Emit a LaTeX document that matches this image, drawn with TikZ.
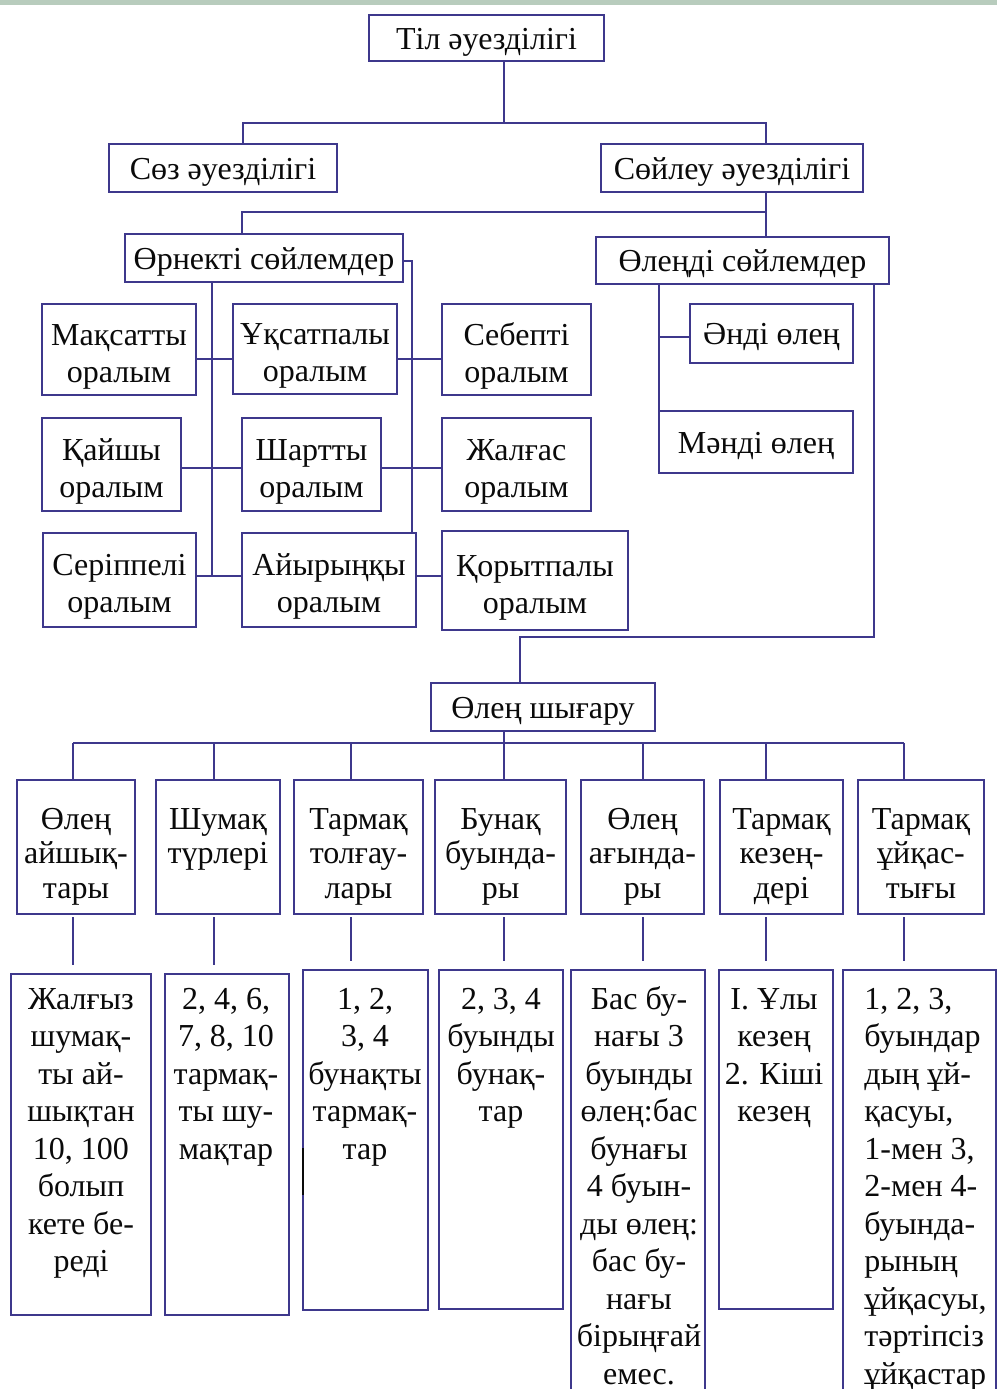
\documentclass[tikz,border=0pt]{standalone}
\usepackage{fontspec}
\setmainfont{Liberation Serif}
\definecolor{lineblue}{RGB}{62,56,140}
\definecolor{bandgreen}{RGB}{184,204,189}
\definecolor{inkblack}{RGB}{10,10,10}
\begin{document}
\begin{tikzpicture}[x=0.5pt,y=-0.5pt,
  box/.style={draw=lineblue, line width=1pt, inner sep=0pt, outer sep=0pt,
    align=center, text=inkblack, font=\fontsize{16}{18.5}\selectfont},
  frame/.style args={#1/#2/#3/#4}{minimum width={(#3-#1)*0.5pt},
    minimum height={(#4-#2)*0.5pt}, at={({(#1+#3)/2},{(#2+#4)/2})}},
  oneline/.style={box, text height=14.5pt, text depth=3.5pt},
  twoline/.style={box, text height=36pt, text depth=3.5pt},
  midbox/.style={box, font=\fontsize{16}{17.25}\selectfont,
    text height=54.5pt, text depth=3.5pt},
  txt/.style={inner sep=0pt, text=inkblack, font=\fontsize{16}{18.75}\selectfont},
  link/.style={draw=lineblue, line width=0.9pt},
  gap/.style={link, shorten <=1.5pt, shorten >=4.5pt}]

\useasboundingbox (0,0) rectangle (997,1389);
\clip (0,0) rectangle (997,1389);
\fill[white] (0,0) rectangle (997,1389);
\fill[bandgreen] (0,0) rectangle (997,5);

% upper part of the tree
\node[oneline, frame=369/15/604/61] (top) {Тіл әуезділігі};
\node[oneline, frame=109/144/337/192] (soz) {Сөз әуезділігі};
\node[oneline, frame=601/144/863/192] (soyl) {Сөйлеу әуезділігі};
\node[oneline, frame=125/234/403/282] (orn) {Өрнекті сөйлемдер};
\node[oneline, frame=596/237/889/284] (olen) {Өлеңді сөйлемдер};

% the nine kinds of оралым
\node[twoline, frame=42/304/196/395] (maq) {Мақсатты\\оралым};
\node[twoline, frame=233/304/397/394] (uqs) {Ұқсатпалы\\оралым};
\node[twoline, frame=442/304/591/395] (seb) {Себепті\\оралым};
\node[twoline, frame=42/418/181/511] (qai) {Қайшы\\оралым};
\node[twoline, frame=242/418/381/511] (shar) {Шартты\\оралым};
\node[twoline, frame=442/418/591/511] (zhal) {Жалғас\\оралым};
\node[twoline, frame=43/533/196/627] (ser) {Серіппелі\\оралым};
\node[twoline, frame=242/533/416/627] (aiy) {Айырыңқы\\оралым};
\node[twoline, frame=442/531/628/630] (qor) {Қорытпалы\\оралым};

% kinds of өлең
\node[oneline, frame=690/304/853/363] (andi) {Әнді өлең};
\node[oneline, frame=659/411/853/473] (mandi) {Мәнді өлең};

\node[oneline, frame=431/683/655/731] (shyg) {Өлең шығару};

% middle row
\node[midbox, frame=17/780/135/914] (m1) {Өлең\\айшық-\\тары};
\node[midbox, frame=156/780/280/914] (m2) {Шумақ\\түрлері\\\strut};
\node[midbox, frame=294/780/423/914] (m3) {Тармақ\\толғау-\\лары};
\node[midbox, frame=435/780/566/914] (m4) {Бунақ\\буында-\\ры};
\node[midbox, frame=581/780/704/914] (m5) {Өлең\\ағында-\\ры};
\node[midbox, frame=720/780/843/914] (m6) {Тармақ\\кезең-\\дері};
\node[midbox, frame=858/780/984/914] (m7) {Тармақ\\ұйқас-\\тығы};

% bottom row frames
\node[box, frame=11/974/151/1315] (b1) {};
\node[box, frame=165/974/289/1315] (b2) {};
\node[box, frame=303/970/428/1310] (b3) {};
\node[box, frame=439/970/563/1309] (b4) {};
\node[box, frame=571/970/705/1400] (b5) {};
\node[box, frame=719/970/833/1309] (b6) {};
\node[box, frame=843/970/996/1400] (b7) {};

% bottom row texts
\node[txt, text width=66pt, align=flush center, anchor=base] (b1t) at (81,1009)
  {Жалғыз\\шумақ-\\ты ай-\\шықтан\\10, 100\\болып\\кете бе-\\реді};
\node[txt, text width=60pt, align=flush center, anchor=base] (b2t) at (226,1009)
  {2, 4, 6,\\7, 8, 10\\тармақ-\\ты шу-\\мақтар};
\node[txt, text width=61pt, align=flush center, anchor=base] (b3t) at (365,1009)
  {1, 2,\\3, 4\\бунақты\\тармақ-\\тар};
\node[txt, text width=60pt, align=flush center, anchor=base] (b4t) at (501,1009)
  {2, 3, 4\\буынды\\бунақ-\\тар};
\node[txt, text width=65pt, align=flush center, anchor=base] (b5t) at (639,1009)
  {Бас бу-\\нағы 3\\буынды\\өлең:бас\\бунағы\\4 буын-\\ды өлең:\\бас бу-\\нағы\\бірыңғай\\емес.};
\node[txt, text width=55pt, align=flush center, anchor=base] (b6t) at (774,1009)
  {I. Ұлы\\кезең\\2. Кіші\\кезең};
\node[txt, text width=64pt, align=flush left, anchor=base west] (b7t) at (864,1009)
  {1, 2, 3,\\буындар\\дың ұй-\\қасуы,\\1-мен 3,\\2-мен 4-\\буында-\\рының\\ұйқасуы,\\тәртіпсіз\\ұйқастар};

% dark patch on the left edge of the third frame
\draw[inkblack, line width=1.4pt] ([yshift=-89pt]b3.north west) -- ([yshift=-112.5pt]b3.north west);

% connectors: title level
\coordinate (t0) at (504,123);
\coordinate (tl) at (243,123);
\coordinate (tr) at (766,123);
\draw[link] (top.south -| t0) -- (t0);
\draw[link] (soz.north -| tl) -- (tl) -- (tr) -- (soyl.north -| tr);

% connectors: Сөйлеу әуезділігі
\coordinate (s0) at (766,212);
\coordinate (sl) at (242,212);
\draw[link] (soyl.south -| s0) -- (olen.north -| s0);
\draw[link] (s0) -- (sl) -- (orn.north -| sl);

% connectors: Өрнекті сөйлемдер
\coordinate (r1) at (0,359);
\coordinate (r2) at (0,468);
\coordinate (r3) at (212,576);
\coordinate (o2) at (412,261);
\draw[link] (orn.south -| r3) -- (r3);
\draw[link] (orn.east |- o2) -- (o2) -- (aiy.north -| o2);
\draw[link] (maq.east |- r1) -- (uqs.west |- r1);
\draw[link] (uqs.east |- r1) -- (seb.west |- r1);
\draw[link] (qai.east |- r2) -- (shar.west |- r2);
\draw[link] (shar.east |- r2) -- (zhal.west |- r2);
\draw[link] (ser.east |- r3) -- (aiy.west |- r3);
\draw[link] (aiy.east |- r3) -- (qor.west |- r3);

% connectors: Өлеңді сөйлемдер
\coordinate (p1) at (659,337);
\coordinate (p2) at (874,637);
\coordinate (p3) at (520,637);
\draw[link] (olen.south -| p1) -- (mandi.north -| p1);
\draw[link] (p1) -- (andi.west |- p1);
\draw[link] (olen.south -| p2) -- (p2) -- (p3) -- (shyg.north -| p3);

% connectors: Өлең шығару
\coordinate (q0) at (504,743);
\foreach \i/\x in {1/73,2/214,3/351,4/504,5/643,6/766,7/904}
  \coordinate (q\i) at (\x,743);
\draw[link] (shyg.south -| q0) -- (q0);
\draw[link] (q1) -- (q7);
\foreach \i in {1,...,7} {
  \draw[link] (q\i) -- (m\i.north -| q\i);
  \draw[gap] (m\i.south -| q\i) -- (b\i.north -| q\i);
}
\end{tikzpicture}
\end{document}
